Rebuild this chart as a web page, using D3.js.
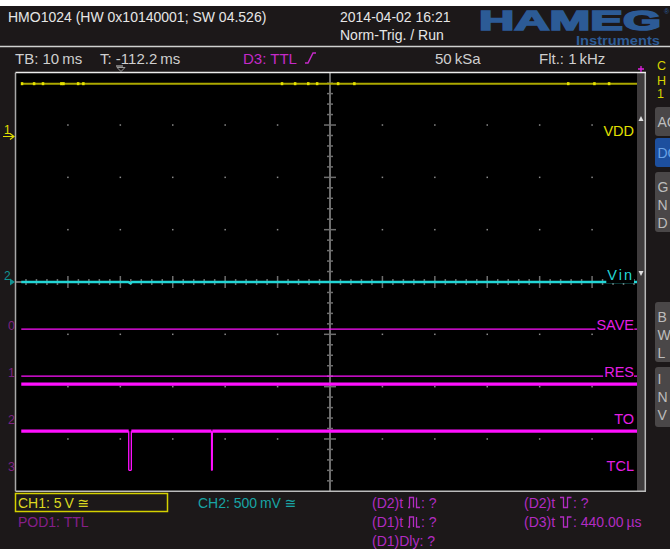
<!DOCTYPE html>
<html>
<head>
<meta charset="utf-8">
<script src="https://d3js.org/d3.v7.min.js"></script>
<style>
  body { margin: 0; background: #1c1819; overflow: hidden; }
  svg { display: block; }
  text { font-family: 'Liberation Sans', 'DejaVu Sans', sans-serif; }
</style>
</head>
<body>
<div id="scope"></div>
<script>
// scope settings / values
var timeRange = [-60, 60];          // ms around screen centre, TB 10 ms/div
var divRange = [-4, 4];             // vertical divisions

// analog channels
var ch1Time = [-58.9, 58.6];
var ch1Volt = [5.0, 5.0];           // VDD, 5 V/div
var ch1BlipTime = [-58.8, -56.5, -54.8, -51.3, -50.9, -48.1, -47.1, -9.2, -6.7, -4.2, -2.5, 1.5, 4.6, 45.4, 50.4, 53.2];
var ch2Time = [-58.9, -38.5, -38.1, -37.7, 58.6];
var ch2Volt = [0, 0, -0.012, 0, 0]; // Vin, 500 mV/div
var analogNames = ['VDD', 'Vin'];
var analogOffsetDiv = [2.79, 0];
var analogVoltsPerDiv = [5, 0.5];

// digital pod 1
var digIndex = ['0', '1', '2', '3'];
var digNames = ['SAVE', 'RES', 'TO', 'TCL'];
var digStartLevel = [0, 0, 1, 1];
var digEdges = [[], [], [], [-38.4, -37.9, -22.6, -22.45]];
var digLowDiv = [-0.9, -1.8, -2.7, -3.6];
var digHighStep = 0.75;

var W = 670, H = 549;
var plot = { left: 15.5, right: 644.5, top: 72.7, bottom: 491.3 };
var traceEnd = 637;

var svg = d3.select('#scope').append('svg')
    .attr('width', W).attr('height', H);

svg.append('rect').attr('width', W).attr('height', H).attr('fill', '#1c1819');
svg.append('rect').attr('width', W).attr('height', 6).attr('fill', '#ffffff');

var x = d3.scaleLinear().domain(timeRange).range([plot.left, plot.right]);
var y = d3.scaleLinear().domain(divRange).range([plot.bottom, plot.top]);

// ---------- header ----------
var head = svg.append('g').attr('class', 'header');
head.append('text').attr('x', 8).attr('y', 22).attr('font-size', 14)
    .attr('fill', '#e6e6e6').text('HMO1024 (HW 0x10140001; SW 04.526)');
head.append('text').attr('x', 340).attr('y', 22).attr('font-size', 14)
    .attr('fill', '#e6e6e6').text('2014-04-02 16:21');
head.append('text').attr('x', 340).attr('y', 40).attr('font-size', 14)
    .attr('fill', '#e6e6e6').text('Norm-Trig. / Run');
head.append('text').attr('x', 479).attr('y', 30)
    .attr('font-family', 'DejaVu Sans').attr('font-weight', 'bold').attr('font-size', 27)
    .attr('textLength', 182).attr('lengthAdjust', 'spacingAndGlyphs')
    .attr('fill', '#2c5b96').attr('stroke', '#2c5b96').attr('stroke-width', 1.6).text('HAMEG');
head.append('text').attr('x', 664).attr('y', 14).attr('font-size', 7).attr('fill', '#2c5b96').text('®');
head.append('text').attr('x', 576).attr('y', 45)
    .attr('font-family', 'DejaVu Sans').attr('font-weight', 'bold').attr('font-size', 12.5)
    .attr('textLength', 84).attr('lengthAdjust', 'spacingAndGlyphs')
    .attr('fill', '#2c5b96').text('Instruments');
head.append('line').attr('x1', 0).attr('x2', W).attr('y1', 46.5).attr('y2', 46.5)
    .attr('stroke', '#d0d0d0').attr('stroke-width', 1.5);

var row2 = [
    { x: 15, t: 'TB: 10\u2009ms', c: '#cfcfcf' },
    { x: 100, t: 'T: -112.2\u2009ms', c: '#cfcfcf' },
    { x: 243, t: 'D3: TTL', c: '#c42ac8' },
    { x: 435, t: '50\u2009kSa', c: '#cfcfcf' },
    { x: 539, t: 'Flt.: 1\u2009kHz', c: '#cfcfcf' }
];
head.selectAll('text.row2').data(row2).enter().append('text')
    .attr('class', 'row2')
    .attr('x', function(d) { return d.x; }).attr('y', 64)
    .attr('font-size', 15).attr('fill', function(d) { return d.c; })
    .text(function(d) { return d.t; });
// cursor under the minus sign and the trigger-time marker
head.append('line').attr('x1', 116).attr('x2', 123).attr('y1', 66).attr('y2', 66)
    .attr('stroke', '#cfcfcf').attr('stroke-width', 1);
head.append('path').attr('d', 'M117,67.5 L125,67.5 L121,71.5 Z')
    .attr('fill', 'none').attr('stroke', '#9a9a9a').attr('stroke-width', 1);
// rising edge symbol after TTL
head.append('path').attr('d', 'M305,63 H308 L313,53 H316')
    .attr('fill', 'none').attr('stroke', '#c42ac8').attr('stroke-width', 1.5);

// ---------- right side panel ----------
var side = svg.append('g').attr('class', 'side');
[['C', 70], ['H', 85], ['1', 98]].forEach(function(p) {
    side.append('text').attr('x', 657).attr('y', p[1]).attr('font-size', 12.5)
        .attr('fill', '#d8d400').text(p[0]);
});
var buttons = [
    { y0: 107, y1: 136, fill: '#4a4748', c: '#bdbdbd', letters: [['AC', 127]] },
    { y0: 138, y1: 167, fill: '#1d4f9e', c: '#69a2e6', letters: [['DC', 158]] },
    { y0: 172, y1: 232, fill: '#4a4748', c: '#bdbdbd', letters: [['G', 192], ['N', 210], ['D', 228]] },
    { y0: 302, y1: 362, fill: '#4a4748', c: '#bdbdbd', letters: [['B', 322], ['W', 340], ['L', 358]] },
    { y0: 367, y1: 427, fill: '#4a4748', c: '#bdbdbd', letters: [['I', 384], ['N', 402], ['V', 420]] }
];
buttons.forEach(function(b) {
    side.append('rect').attr('x', 655).attr('y', b.y0).attr('width', 24).attr('height', b.y1 - b.y0)
        .attr('rx', 3).attr('fill', b.fill);
    b.letters.forEach(function(l) {
        side.append('text').attr('x', 657.5).attr('y', l[1]).attr('font-size', 14)
            .attr('fill', b.c).text(l[0]);
    });
});

// ---------- screen ----------
var screen = svg.append('g').attr('class', 'screen');
screen.append('rect').attr('x', plot.left).attr('y', plot.top)
    .attr('width', plot.right - plot.left).attr('height', plot.bottom - plot.top)
    .attr('fill', '#000');

// dots on the division crossings
var dots = [];
d3.range(-5, 6).forEach(function(i) {
    d3.range(-3, 4).forEach(function(j) { dots.push([i * 10, j]); });
});
screen.selectAll('rect.dot').data(dots).enter().append('rect')
    .attr('class', 'dot')
    .attr('x', function(d) { return x(d[0]) - 0.75; })
    .attr('y', function(d) { return y(d[1]) - 0.75; })
    .attr('width', 1.5).attr('height', 1.5).attr('fill', '#8a8a8a');

// centre axes with 1/5 division ticks
var axisCol = '#6e6e6e';
screen.append('line').attr('x1', x(0)).attr('x2', x(0)).attr('y1', plot.top).attr('y2', plot.bottom)
    .attr('stroke', axisCol).attr('stroke-width', 2);
screen.append('line').attr('x1', plot.left).attr('x2', plot.right).attr('y1', y(0)).attr('y2', y(0))
    .attr('stroke', axisCol).attr('stroke-width', 2);
screen.selectAll('line.htick').data(d3.range(-29, 30)).enter().append('line')
    .attr('class', 'htick')
    .attr('x1', function(k) { return x(k * 2); }).attr('x2', function(k) { return x(k * 2); })
    .attr('y1', function(k) { return y(0) - (k % 5 === 0 ? 6 : 3); })
    .attr('y2', function(k) { return y(0) + (k % 5 === 0 ? 6 : 3); })
    .attr('stroke', axisCol).attr('stroke-width', 1.5);
screen.selectAll('line.vtick').data(d3.range(-19, 20)).enter().append('line')
    .attr('class', 'vtick')
    .attr('x1', function(k) { return x(0) - (k % 5 === 0 ? 6 : 3); })
    .attr('x2', function(k) { return x(0) + (k % 5 === 0 ? 6 : 3); })
    .attr('y1', function(k) { return y(k / 5); }).attr('y2', function(k) { return y(k / 5); })
    .attr('stroke', axisCol).attr('stroke-width', 1.5);

// analog traces
function analogY(ch) {
    return function(v) { return y(analogOffsetDiv[ch] + v / analogVoltsPerDiv[ch]); };
}
var y1 = analogY(0), y2 = analogY(1);
var line1 = d3.line().x(function(d) { return x(d[0]); }).y(function(d) { return y1(d[1]); });
var line2 = d3.line().x(function(d) { return x(d[0]); }).y(function(d) { return y2(d[1]); });

screen.append('path').datum(d3.zip(ch1Time, ch1Volt)).attr('d', line1)
    .attr('fill', 'none').attr('stroke', '#aca800').attr('stroke-width', 2);
screen.selectAll('rect.blip').data(ch1BlipTime).enter().append('rect')
    .attr('class', 'blip')
    .attr('x', function(t) { return x(t) - 1; }).attr('y', y1(5.0) - 1.5)
    .attr('width', 2.5).attr('height', 3).attr('fill', '#e8e400');

screen.append('path').datum(d3.zip(ch2Time, ch2Volt)).attr('d', line2)
    .attr('fill', 'none').attr('stroke', '#22d6d6').attr('stroke-width', 2.4);

// digital traces: high drawn thick, low thin
var digLine = screen.append('g').attr('class', 'digital');
digNames.forEach(function(name, i) {
    var yLow = y(digLowDiv[i]), yHigh = y(digLowDiv[i] + digHighStep);
    var times = [ch1Time[0]].concat(digEdges[i]).concat([x.invert(traceEnd)]);
    var level = digStartLevel[i];
    for (var s = 0; s < times.length - 1; s++) {
        digLine.append('line')
            .attr('x1', x(times[s])).attr('x2', x(times[s + 1]))
            .attr('y1', level ? yHigh : yLow).attr('y2', level ? yHigh : yLow)
            .attr('stroke', '#ff10ff').attr('stroke-width', level ? 3.2 : 1.3);
        level = 1 - level;
    }
    digEdges[i].forEach(function(t) {
        digLine.append('line').attr('x1', x(t)).attr('x2', x(t))
            .attr('y1', yHigh).attr('y2', yLow)
            .attr('stroke', '#ff10ff').attr('stroke-width', 1.3);
    });
});

// trace labels on the right, with black backing
function traceLabel(txt, yb, col, spacing) {
    var t = screen.append('text').attr('x', 634).attr('y', yb).attr('text-anchor', 'end')
        .attr('font-size', 14.5).attr('fill', col).attr('letter-spacing', spacing || 0).text(txt);
    var bb = t.node().getBBox();
    screen.insert('rect', function() { return t.node(); })
        .attr('x', bb.x - 1).attr('y', bb.y).attr('width', bb.width + 1).attr('height', bb.height)
        .attr('fill', '#000');
}
traceLabel(analogNames[0], y(analogOffsetDiv[0]), '#e2e000');
traceLabel(analogNames[1], y(analogOffsetDiv[1]) - 2, '#22d6d6', 2);
digNames.forEach(function(name, i) { traceLabel(name, y(digLowDiv[i]) + 0.5, '#e41ee4'); });

// borders and scroll bar
screen.append('rect').attr('x', traceEnd).attr('y', plot.top).attr('width', plot.right - traceEnd + 0.5)
    .attr('height', plot.bottom - plot.top).attr('fill', '#3e3b3c');
screen.append('path').attr('d', 'M638.5,121 L643.5,121 L641,116 Z').attr('fill', '#e0e0e0');
screen.append('path').attr('d', 'M638.5,271 L643.5,271 L641,276 Z').attr('fill', '#e0e0e0');
screen.append('line').attr('x1', plot.right + 0.8).attr('x2', plot.right + 0.8)
    .attr('y1', plot.top).attr('y2', plot.bottom).attr('stroke', '#b8b8b8').attr('stroke-width', 1.5);
screen.append('line').attr('x1', plot.left).attr('x2', plot.left)
    .attr('y1', plot.top).attr('y2', plot.bottom).attr('stroke', '#a8a8a8').attr('stroke-width', 1.5);
screen.append('line').attr('x1', plot.left).attr('x2', plot.right + 1.5)
    .attr('y1', plot.top - 0.3).attr('y2', plot.top - 0.3).attr('stroke', '#ececec').attr('stroke-width', 1.5);
screen.append('line').attr('x1', plot.left).attr('x2', plot.right + 1.5)
    .attr('y1', plot.bottom).attr('y2', plot.bottom).attr('stroke', '#bcbcbc').attr('stroke-width', 1.5);
// trigger level marker
screen.append('path').attr('d', 'M638,69 H644 M641,66 V72').attr('stroke', '#e020e0').attr('stroke-width', 1.3);

// channel markers on the left
var marks = svg.append('g').attr('class', 'markers');
marks.append('text').attr('x', 4).attr('y', y(analogOffsetDiv[0]) - 2).attr('font-size', 12)
    .attr('fill', '#e2e000').text('1');
marks.append('path').attr('d', 'M3,' + (y(analogOffsetDiv[0]) + 0.5) + ' H13 M10,' + (y(analogOffsetDiv[0]) - 2.5)
        + ' L14,' + (y(analogOffsetDiv[0]) + 0.5) + ' L10,' + (y(analogOffsetDiv[0]) + 3.5))
    .attr('fill', 'none').attr('stroke', '#e2e000').attr('stroke-width', 1.2);
marks.append('text').attr('x', 4).attr('y', y(0) - 2).attr('font-size', 12)
    .attr('fill', '#119393').text('2');
marks.append('path').attr('d', 'M10,' + (y(0) - 3.5) + ' L15,' + y(0) + ' L10,' + (y(0) + 3.5) + ' Z')
    .attr('fill', '#119393');
marks.selectAll('text.dig').data(digIndex).enter().append('text')
    .attr('class', 'dig')
    .attr('x', 8).attr('y', function(d, i) { return y(digLowDiv[i]) + 1; })
    .attr('font-size', 12.5).attr('fill', '#7c2282')
    .text(function(d) { return d; });

// ---------- status line ----------
var statusG = svg.append('g').attr('class', 'status');
statusG.append('rect').attr('x', 15.5).attr('y', 493.5).attr('width', 152).attr('height', 18)
    .attr('fill', 'none').attr('stroke', '#d4d000').attr('stroke-width', 1.5);
statusG.append('text').attr('x', 18).attr('y', 507.5).attr('font-size', 14)
    .attr('fill', '#dcd820').text('CH1: 5\u2009V \u2245');
statusG.append('text').attr('x', 198).attr('y', 507.5).attr('font-size', 14)
    .attr('fill', '#18a4a4').text('CH2: 500\u2009mV \u2245');
statusG.append('text').attr('x', 18).attr('y', 527).attr('font-size', 14)
    .attr('fill', '#861f8a').text('POD1: TTL');

var symbols = {
    pos: 'M0,0 H1.5 V-10 H5.5 V0 M8.5,-10 V0 H12',
    neg: 'M0,-10 H3.5 V0 H7.5 V-10 H11.5'
};
function measureText(xp, yp, parts, col) {
    var cx = xp;
    parts.forEach(function(p) {
        if (symbols[p]) {
            statusG.append('path').attr('d', symbols[p])
                .attr('transform', 'translate(' + (cx + 1) + ',' + yp + ')')
                .attr('fill', 'none').attr('stroke', col).attr('stroke-width', 1.3);
            cx += 14;
        } else {
            var t = statusG.append('text').attr('x', cx).attr('y', yp).attr('font-size', 14)
                .attr('fill', col).style('white-space', 'pre').text(p);
            cx += t.node().getComputedTextLength();
        }
    });
}
var measCol = '#b22cc2';
measureText(372, 507.5, ['(D2)t ', 'pos', ': ?'], measCol);
measureText(372, 527, ['(D1)t ', 'pos', ': ?'], measCol);
measureText(372, 546, ['(D1)Dly: ?'], measCol);
measureText(524, 507.5, ['(D2)t ', 'neg', ': ?'], measCol);
measureText(524, 527, ['(D3)t ', 'neg', ': 440.00\u2009\u00b5s'], measCol);
</script>
</body>
</html>
